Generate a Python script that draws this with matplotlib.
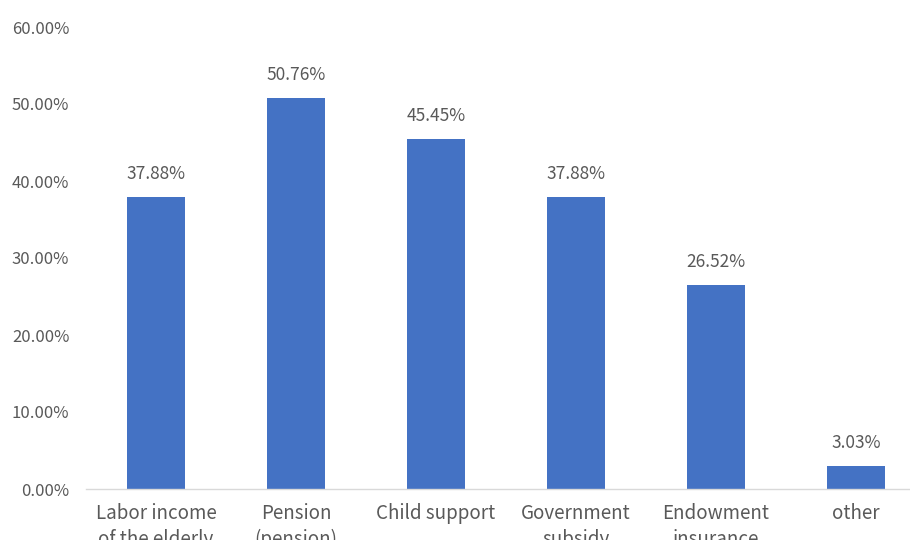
import matplotlib
matplotlib.use("Agg")
import matplotlib.pyplot as plt
from matplotlib.ticker import FuncFormatter, MultipleLocator

categories = [
    "Labor income\nof the elderly",
    "Pension\n(pension)",
    "Child support",
    "Government\nsubsidy",
    "Endowment\ninsurance",
    "other",
]
shares = [37.88, 50.76, 45.45, 37.88, 26.52, 3.03]

BAR_COLOR = "#4472C4"
TEXT_COLOR = "#595959"
AXIS_COLOR = "#D9D9D9"

plt.rcParams["font.family"] = ["Noto Sans CJK SC", "DejaVu Sans"]
plt.rcParams["font.weight"] = "light"

fig = plt.figure(figsize=(9.1, 5.4), dpi=100)
ax = fig.add_axes([86 / 910, 51 / 540, 840 / 910, 462 / 540])

x = range(len(categories))
bars = ax.bar(x, shares, width=0.414, color=BAR_COLOR, zorder=2)

for rect, v in zip(bars, shares):
    ax.annotate(f"{v:.2f}%", (rect.get_x() + rect.get_width() / 2, v),
                xytext=(0, 10), textcoords="offset points",
                ha="center", va="bottom", color=TEXT_COLOR, fontsize=12.5)

ax.set_xlim(-0.5, len(categories) - 0.5)
ax.set_ylim(0, 60)
ax.yaxis.set_major_locator(MultipleLocator(10))
ax.yaxis.set_major_formatter(FuncFormatter(lambda v, _: f"{v:.2f}%"))

ax.set_xticks(list(x))
ax.set_xticklabels(categories, linespacing=1.3, fontsize=13.5)

for side in ("top", "right", "left"):
    ax.spines[side].set_visible(False)
ax.spines["bottom"].set_color(AXIS_COLOR)
ax.spines["bottom"].set_linewidth(1.0)

ax.tick_params(axis="both", length=0, colors=TEXT_COLOR)
ax.tick_params(axis="y", pad=12, labelsize=12)
ax.tick_params(axis="x", pad=10)
ax.set_facecolor("white")

fig.savefig("out.png", dpi=100, facecolor="white")
